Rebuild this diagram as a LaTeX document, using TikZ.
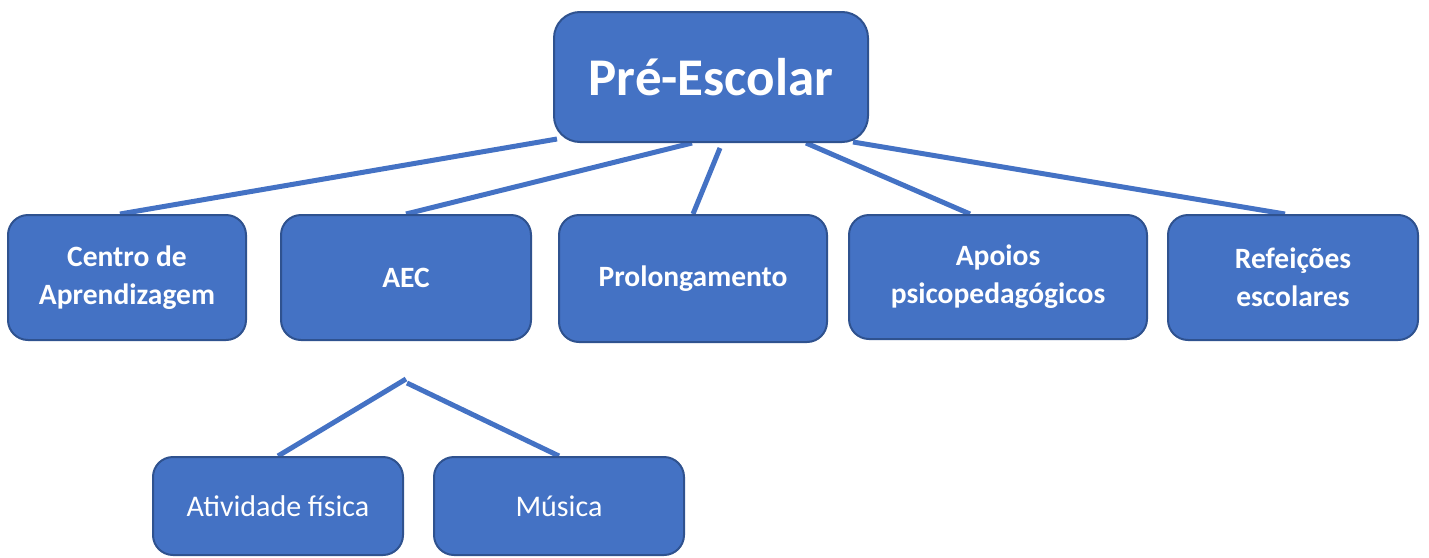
\documentclass[tikz,border=0pt]{standalone}
\usepackage{fontspec}
\setmainfont{Carlito}
\usetikzlibrary{backgrounds}
\definecolor{boxfill}{HTML}{4472C4}
\definecolor{boxedge}{HTML}{2F528F}
\begin{document}
\begin{tikzpicture}[x=1pt,y=-1pt,
  box/.style={draw=boxedge,line width=2pt,fill=boxfill,rounded corners=20pt,text=white,align=center,inner sep=0pt,font=\fontsize{29.5}{38}\selectfont\bfseries},
  topbox/.style={box,rounded corners=26pt,font=\fontsize{53}{60}\selectfont\bfseries},
  subbox/.style={box,font=\fontsize{30}{36}\selectfont},
  link/.style={draw=boxfill,line width=5pt}]
\useasboundingbox (0,0) rectangle (1429,557);
\node[topbox,minimum width=314pt,minimum height=130pt] (top) at (711,77) {Pré-Escolar};
\node[box,minimum width=238pt,minimum height=125pt] (centro) at (127,277.5) {Centro de\\Aprendizagem};
\node[box,minimum width=250pt,minimum height=125pt] (aec) at (406,277.5) {AEC};
\node[box,minimum width=268pt,minimum height=127pt] (prol) at (693,278.5) {Prolongamento};
\node[box,minimum width=298pt,minimum height=124pt] (apoios) at (998,277) {Apoios\\psicopedagógicos};
\node[box,minimum width=250pt,minimum height=125pt] (ref) at (1293,277.5) {Refeições\\escolares};
\node[subbox,minimum width=250pt,minimum height=98pt] (ativ) at (278,506) {Atividade física};
\node[subbox,minimum width=250pt,minimum height=98pt] (mus) at (559,506) {Música};
\coordinate (peakL) at ([yshift=-38pt]aec.south);
\coordinate (peakR) at ([xshift=1pt,yshift=-42pt]aec.south);
\begin{scope}[on background layer]
\draw[link] ([xshift=4pt,yshift=4pt]top.south west) -- ([xshift=-7pt]centro.north);
\draw[link] ([xshift=-19pt]top.south) -- (aec.north);
\draw[link] ([xshift=9pt,yshift=-5pt]top.south) -- (prol.north);
\draw[link] ([xshift=95pt]top.south) -- ([xshift=-28pt]apoios.north);
\draw[link] ([xshift=-16pt,yshift=1pt]top.south east) -- ([xshift=-8pt]ref.north);
\draw[link] (peakL) -- (ativ.north);
\draw[link] (peakR) -- (mus.north);
\end{scope}
\end{tikzpicture}
\end{document}
